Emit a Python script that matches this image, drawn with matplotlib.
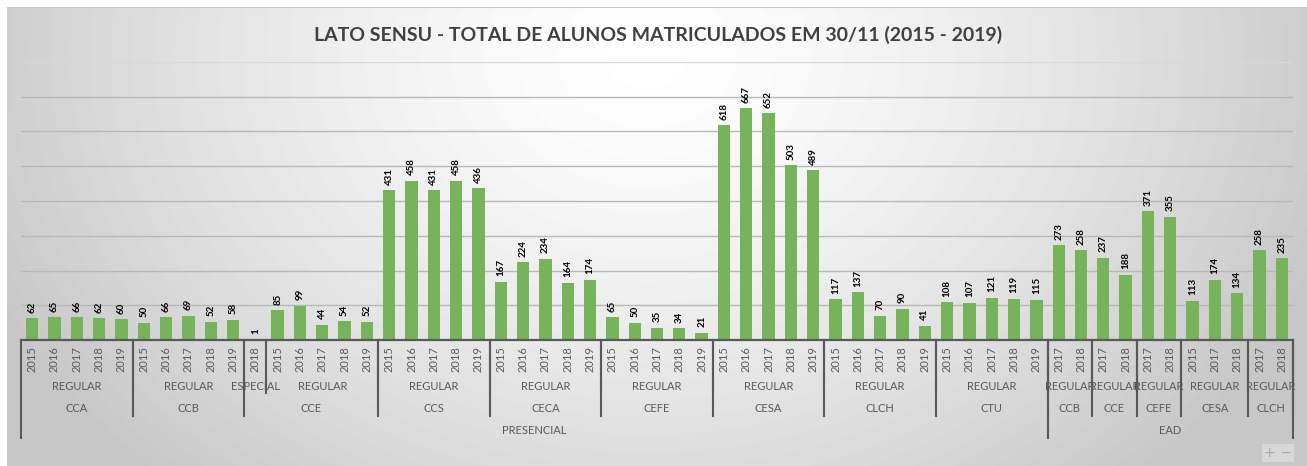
import matplotlib
matplotlib.use("Agg")
import matplotlib.pyplot as plt
import matplotlib.transforms as mtransforms
from matplotlib.lines import Line2D
import numpy as np

# Data
anos = ['2015', '2016', '2017', '2018', '2019',   # CCA
        '2015', '2016', '2017', '2018', '2019',   # CCB
        '2018',                                   # CCE especial
        '2015', '2016', '2017', '2018', '2019',   # CCE regular
        '2015', '2016', '2017', '2018', '2019',   # CCS
        '2015', '2016', '2017', '2018', '2019',   # CECA
        '2015', '2016', '2017', '2018', '2019',   # CEFE
        '2015', '2016', '2017', '2018', '2019',   # CESA
        '2015', '2016', '2017', '2018', '2019',   # CLCH
        '2015', '2016', '2017', '2018', '2019',   # CTU
        '2017', '2018',                           # EAD CCB
        '2017', '2018',                           # EAD CCE
        '2017', '2018',                           # EAD CEFE
        '2015', '2017', '2018',                   # EAD CESA
        '2017', '2018']                           # EAD CLCH

alunos = [62, 65, 66, 62, 60,
          50, 66, 69, 52, 58,
          1,
          85, 99, 44, 54, 52,
          431, 458, 431, 458, 436,
          167, 224, 234, 164, 174,
          65, 50, 35, 34, 21,
          618, 667, 652, 503, 489,
          117, 137, 70, 90, 41,
          108, 107, 121, 119, 115,
          273, 258,
          237, 188,
          371, 355,
          113, 174, 134,
          258, 235]

# run-length groups for the multi level axis
nivel_tipo = [('REGULAR', 5), ('REGULAR', 5), ('ESPECIAL', 1), ('REGULAR', 5),
              ('REGULAR', 5), ('REGULAR', 5), ('REGULAR', 5), ('REGULAR', 5),
              ('REGULAR', 5), ('REGULAR', 5),
              ('REGULAR', 2), ('REGULAR', 2), ('REGULAR', 2), ('REGULAR', 3),
              ('REGULAR', 2)]
nivel_centro = [('CCA', 5), ('CCB', 5), ('CCE', 6), ('CCS', 5), ('CECA', 5),
                ('CEFE', 5), ('CESA', 5), ('CLCH', 5), ('CTU', 5),
                ('CCB', 2), ('CCE', 2), ('CEFE', 2), ('CESA', 3), ('CLCH', 2)]
nivel_modalidade = [('PRESENCIAL', 46), ('EAD', 11)]

titulo = 'LATO SENSU - TOTAL DE ALUNOS MATRICULADOS EM 30/11 (2015 - 2019)'

W, H = 1307, 466
fig = plt.figure(figsize=(W / 100, H / 100), dpi=100)
fig.patch.set_facecolor('white')

# background gradient
bg = fig.add_axes([7 / W, 0, 1 - 7 / W, 1 - 7 / H], zorder=-10)
yy, xx = np.mgrid[0:H - 7, 0:W - 7]
r = np.sqrt(((xx - 640) / 700.0) ** 2 + ((yy - 50) / 560.0) ** 2)
grad = np.clip(1 - 0.21 * r ** 1.4, 0.78, 1.0)
bg.imshow(grad, cmap='gray', vmin=0, vmax=1, aspect='auto')
bg.set_axis_off()
bg.add_line(Line2D([0, W], [0, 0], color='#c4c4c4', lw=1.5))

fig.text(658 / W, 1 - 35 / H, titulo, ha='center', va='center',
         fontsize=14, fontweight='bold', family='Lato', color='#404040')

left, right = 21 / W, 1293 / W
base_y, top_y = 340, 62
ax = fig.add_axes([left, 1 - base_y / H, right - left, (base_y - top_y) / H])
ax.patch.set_alpha(0)

n = len(alunos)
x = np.arange(n)
ax.bar(x, alunos, width=0.55, color='#77b35a', zorder=3)
for xi, v in zip(x, alunos):
    ax.annotate(str(v), (xi, v), xytext=(0, 4), textcoords='offset points',
                rotation=90, ha='center', va='bottom', fontsize=7,
                fontweight='bold', family='Lato', color='black')

ax.set_xlim(-0.5, n - 0.5)
ax.set_ylim(0, 800)
for g in range(100, 900, 100):
    ax.axhline(g, color='#b8b8b8' if g < 800 else '#d8d8d8', lw=1, zorder=1)
ax.axhline(0, color='#595959', lw=1.6, zorder=4, clip_on=False)
for s in ax.spines.values():
    s.set_visible(False)
ax.set_xticks([])
ax.set_yticks([])

# multi level category axis
trans = mtransforms.blended_transform_factory(ax.transData, fig.transFigure)
lbl_color = '#595959'

def fy(p):
    return 1 - p / H

for xi, a in zip(x, anos):
    ax.text(xi, fy(359), a, transform=trans, rotation=90, ha='center',
            va='center', fontsize=8, family='Lato', color=lbl_color)

def draw_level(groups, ylab, yline):
    pos = 0
    for name, cnt in groups:
        ax.text(pos + (cnt - 1) / 2, fy(ylab), name, transform=trans,
                ha='center', va='center', fontsize=8, family='Lato',
                color=lbl_color)
        pos += cnt
        ax.add_line(Line2D([pos - 0.5, pos - 0.5], [fy(base_y), fy(yline)],
                           transform=trans, color=lbl_color, lw=1.5,
                           clip_on=False))

draw_level(nivel_tipo, 386, 393)
draw_level(nivel_centro, 408, 416)
draw_level(nivel_modalidade, 430, 438)
ax.add_line(Line2D([-0.5, -0.5], [fy(base_y), fy(438)], transform=trans,
                   color=lbl_color, lw=1.5, clip_on=False))

fig.text(1278 / W, 1 - 453 / H, '+ \u2212', ha='center', va='center',
         fontsize=10, color='#a8a8a8',
         bbox=dict(boxstyle='square,pad=0.15', fc='#d8d8d8', ec='none'))

fig.savefig('out.png', dpi=100)
